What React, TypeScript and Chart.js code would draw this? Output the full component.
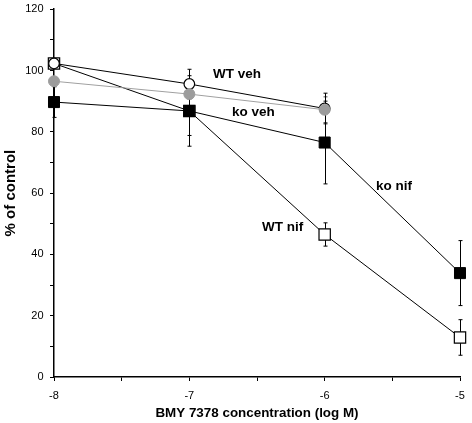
import React, { useEffect, useRef } from "react";
import { Chart, registerables } from "chart.js";

Chart.register(...registerables);

// Data (log M doses, % of control)
const doses = [-8, -7, -6, -5];
const wtVeh = [102.3, 95.6, 87.6];
const wtVehErr = [0, 4.8, 5.0];
const koVeh = [96.5, 92.3, 87.2];
const koVehErr = [0, 1.5, 4.2];
const koNif = [89.7, 86.8, 76.5, 33.9];
const koNifErr = [5.0, 11.5, 13.5, 10.6];
const wtNif = [102.3, 86.8, 46.5, 12.9];
const wtNifErr = [0, 8.0, 3.8, 5.8];

const xTitle = "BMY 7378 concentration (log M)";
const yTitle = "% of control";

const seriesLabels = ["WT veh", "ko veh", "ko nif", "WT nif"];
// label anchor points in data space (left edge, vertical middle)
const labelX = [-6.825, -6.685, -5.62, -6.463];
const labelY = [98.7, 86.5, 62.3, 49.0];

const FONT = "'Liberation Sans', Arial, Helvetica, sans-serif";

const toPts = (ys: number[]) => ys.map((y, i) => ({ x: doses[i], y }));

const errorBarPlugin = {
  id: "errorBars",
  beforeDatasetsDraw(chart: any) {
    const { ctx, scales } = chart;
    const xs = scales.x;
    const ys = scales.y;
    ctx.save();
    chart.data.datasets.forEach((ds: any) => {
      const errs: number[] = ds.errors || [];
      ctx.strokeStyle = ds.errorColor || "#000";
      ctx.lineWidth = 1;
      ds.data.forEach((p: any, i: number) => {
        const e = errs[i] || 0;
        if (!e) return;
        const px = Math.round(xs.getPixelForValue(p.x)) + 0.5;
        const top = ys.getPixelForValue(p.y + e);
        const bot = ys.getPixelForValue(p.y - e);
        ctx.beginPath();
        ctx.moveTo(px, top);
        ctx.lineTo(px, bot);
        ctx.moveTo(px - 2, top);
        ctx.lineTo(px + 2, top);
        ctx.moveTo(px - 2, bot);
        ctx.lineTo(px + 2, bot);
        ctx.stroke();
      });
    });
    ctx.restore();
  },
};

const labelPlugin = {
  id: "seriesLabels",
  afterDatasetsDraw(chart: any) {
    const { ctx, scales } = chart;
    ctx.save();
    ctx.font = `bold 13.5px ${FONT}`;
    ctx.fillStyle = "#000";
    ctx.textAlign = "left";
    ctx.textBaseline = "middle";
    seriesLabels.forEach((t, i) => {
      ctx.fillText(t, scales.x.getPixelForValue(labelX[i]), scales.y.getPixelForValue(labelY[i]));
    });
    ctx.restore();
  },
};

export default function App() {
  const ref = useRef<HTMLCanvasElement | null>(null);

  useEffect(() => {
    if (!ref.current) return;
    const chart = new Chart(ref.current, {
      type: "line",
      data: {
        datasets: [
          {
            label: "ko veh",
            data: toPts(koVeh),
            errors: koVehErr,
            errorColor: "#555",
            borderColor: "#a0a0a0",
            borderWidth: 1,
            pointStyle: "circle",
            pointRadius: 5.5,
            pointBackgroundColor: "#9c9c9c",
            pointBorderColor: "#9c9c9c",
            pointBorderWidth: 1,
          } as any,
          {
            label: "ko nif",
            data: toPts(koNif),
            errors: koNifErr,
            borderColor: "#000",
            borderWidth: 1,
            pointStyle: "rect",
            pointRadius: 7.8,
            pointBackgroundColor: "#000",
            pointBorderColor: "#000",
            pointBorderWidth: 1,
          } as any,
          {
            label: "WT veh",
            data: toPts(wtVeh),
            errors: wtVehErr,
            borderColor: "#000",
            borderWidth: 1,
            pointStyle: "circle",
            pointRadius: 5.3,
            pointBackgroundColor: "#fff",
            pointBorderColor: "#000",
            pointBorderWidth: 1.2,
          } as any,
          {
            label: "WT nif",
            data: toPts(wtNif),
            errors: wtNifErr,
            borderColor: "#000",
            borderWidth: 1,
            pointStyle: "rect",
            pointRadius: 8,
            pointBackgroundColor: "#fff",
            pointBorderColor: "#000",
            pointBorderWidth: 1.2,
          } as any,
        ],
      },
      options: {
        responsive: false,
        animation: false,
        events: [],
        clip: false as any,
        layout: { padding: { top: 5, right: 12, left: 0, bottom: 0 } },
        plugins: {
          legend: { display: false },
          tooltip: { enabled: false },
        },
        elements: { line: { tension: 0 } },
        scales: {
          x: {
            type: "linear",
            min: -8,
            max: -5,
            afterFit(scale: any) {
              scale.height = 46;
              scale.paddingLeft = 0;
              scale.paddingRight = 0;
            },
            ticks: {
              stepSize: 0.5,
              autoSkip: false,
              maxRotation: 0,
              padding: 8,
              color: "#000",
              font: { family: FONT, size: 11 },
              callback: (v: any) => (Number.isInteger(Number(v)) ? String(v) : ""),
            },
            grid: {
              drawOnChartArea: false,
              drawTicks: true,
              tickLength: 4,
              color: "#000",
            },
            border: { display: true, color: "#000", width: 1.5 },
            title: {
              display: true,
              text: xTitle,
              color: "#000",
              font: { family: FONT, size: 13.4, weight: "bold" },
              padding: { top: 2, bottom: 2 },
            },
          },
          y: {
            type: "linear",
            min: 0,
            max: 120,
            afterFit(scale: any) {
              scale.width = 54;
              scale.paddingTop = 0;
              scale.paddingBottom = 0;
            },
            ticks: {
              stepSize: 10,
              autoSkip: false,
              padding: 6.5,
              color: "#000",
              font: { family: FONT, size: 11 },
              callback: (v: any) => (Number(v) % 20 === 0 ? String(v) : ""),
            },
            grid: {
              drawOnChartArea: false,
              drawTicks: true,
              tickLength: 4,
              color: "#000",
            },
            border: { display: true, color: "#000", width: 1.5 },
            title: {
              display: true,
              text: yTitle,
              color: "#000",
              font: { family: FONT, size: 15, weight: "bold" },
              padding: { top: 2, bottom: 2 },
            },
          },
        },
      } as any,
      plugins: [errorBarPlugin, labelPlugin],
    });
    return () => chart.destroy();
  }, []);

  return (
    <div style={{ position: "absolute", left: 0, top: 0, width: 472, height: 423, background: "#fff" }}>
      <canvas ref={ref} width={472} height={423} style={{ display: "block" }} />
    </div>
  );
}
